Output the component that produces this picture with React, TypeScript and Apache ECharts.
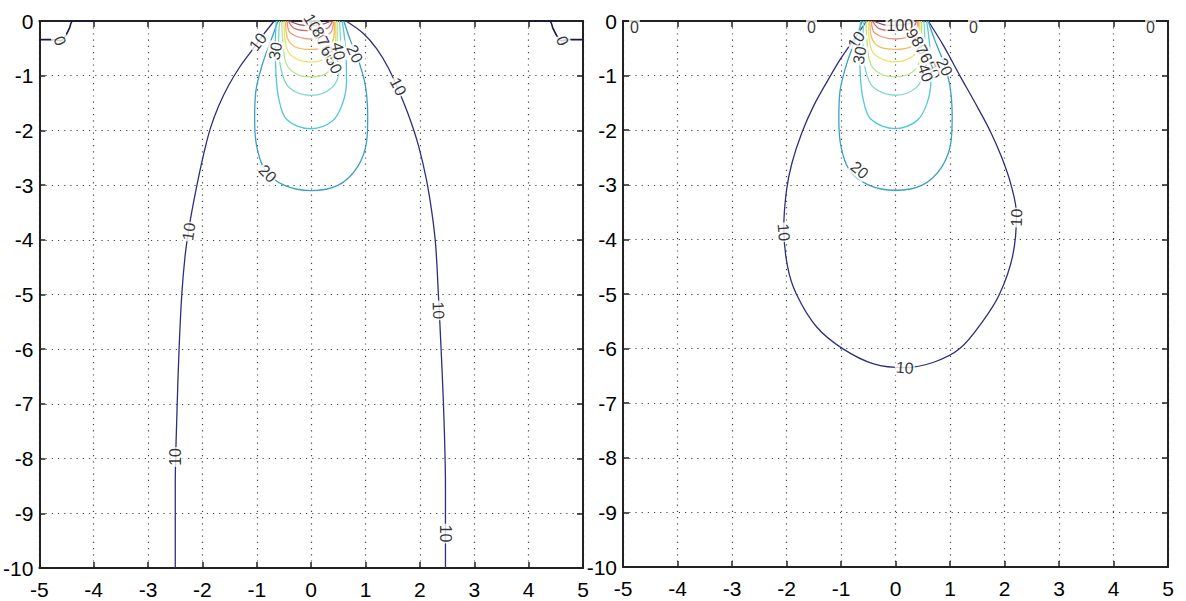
import React, { useEffect, useRef } from "react";
import * as echarts from "echarts";

// ---------- contour data (x, y) ----------
// Left panel
const leftLevel0West: number[][] = [[-5, -0.34], [-4.72, -0.34], [-4.6, -0.36], [-4.53, -0.29], [-4.45, -0.14], [-4.38, 0], [-4.0, 0]];
const leftLevel0East: number[][] = [[4.0, 0], [4.38, 0], [4.45, -0.14], [4.53, -0.29], [4.6, -0.36], [4.72, -0.34], [5, -0.34]];
const leftLevel10West: number[][] = [[-0.68, 0], [-0.88, -0.25], [-1.1, -0.55], [-1.32, -0.85], [-1.52, -1.18], [-1.7, -1.55], [-1.85, -1.95], [-1.97, -2.4], [-2.07, -2.85], [-2.17, -3.35], [-2.25, -3.8], [-2.32, -4.3], [-2.38, -5.0], [-2.43, -6.0], [-2.47, -7.2], [-2.5, -8.5], [-2.5, -10]];
const leftLevel10East: number[][] = [[0.64, 0], [0.95, -0.22], [1.2, -0.5], [1.42, -0.86], [1.63, -1.32], [1.82, -1.8], [1.98, -2.3], [2.12, -2.9], [2.22, -3.5], [2.29, -4.1], [2.34, -5.0], [2.39, -6.0], [2.44, -7.2], [2.47, -8.5], [2.47, -10]];

// Right panel
const rightLevel10: number[][] = [[-0.53, 0], [-0.75, -0.32], [-1.0, -0.68], [-1.25, -1.1], [-1.5, -1.55], [-1.72, -2.05], [-1.9, -2.6], [-2.0, -3.1], [-2.05, -3.8], [-1.98, -4.5], [-1.82, -5.0], [-1.45, -5.6], [-0.97, -6.0], [-0.4, -6.28], [0.17, -6.35], [0.7, -6.25], [1.18, -6.0], [1.6, -5.5], [1.91, -5.0], [2.15, -4.3], [2.22, -3.55], [2.12, -3.0], [1.95, -2.5], [1.73, -2.0], [1.45, -1.48], [1.18, -1.0], [0.88, -0.45], [0.6, 0]];

// Inner contours (both panels)
const level20: number[][] = [[-0.61, 0], [-0.72, -0.3], [-0.9, -0.8], [-1.02, -1.3], [-1.04, -1.8], [-1.0, -2.3], [-0.85, -2.72], [-0.5, -3.0], [0, -3.1], [0.5, -3.0], [0.85, -2.67], [1.02, -2.2], [1.04, -1.75], [1.0, -1.2], [0.88, -0.75], [0.72, -0.35], [0.6, 0]];
const level30: number[][] = [[-0.64, 0], [-0.66, -0.4], [-0.65, -0.9], [-0.6, -1.4], [-0.45, -1.8], [0, -1.97], [0.4, -1.82], [0.58, -1.5], [0.65, -1.1], [0.64, -0.6], [0.6, -0.2], [0.57, 0]];
const level40: number[][] = [[-0.58, 0], [-0.6, -0.4], [-0.55, -0.9], [-0.4, -1.22], [0, -1.36], [0.38, -1.22], [0.52, -0.9], [0.54, -0.4], [0.52, 0]];
const level50: number[][] = [[-0.54, 0], [-0.52, -0.4], [-0.45, -0.8], [-0.25, -0.98], [0, -1.02], [0.25, -0.97], [0.42, -0.8], [0.48, -0.4], [0.48, 0]];
const level60: number[][] = [[-0.5, 0], [-0.48, -0.35], [-0.38, -0.62], [0, -0.75], [0.35, -0.62], [0.45, -0.35], [0.45, 0]];
const level70: number[][] = [[-0.47, 0], [-0.44, -0.3], [-0.3, -0.47], [0, -0.52], [0.3, -0.46], [0.42, -0.28], [0.43, 0]];
const level80: number[][] = [[-0.44, 0], [-0.38, -0.22], [0, -0.33], [0.35, -0.22], [0.41, 0]];
const level90: number[][] = [[-0.42, 0], [-0.3, -0.14], [0, -0.18], [0.3, -0.13], [0.39, 0]];
const level100: number[][] = [[-0.4, 0], [-0.2, -0.07], [0, -0.08], [0.2, -0.06], [0.37, 0]];

// Contour labels: [x, y, text, rotation]
const leftLabels: [number, number, string, number][] = [
  [-4.62, -0.36, "0", -70], [4.62, -0.36, "0", -70],
  [-0.98, -0.38, "10", 52], [-0.66, -0.55, "30", 80],
  [0.06, -0.1, "100", -60], [0.17, -0.27, "80", -60], [0.26, -0.45, "70", -62],
  [0.33, -0.62, "60", -62], [0.42, -0.8, "50", -65], [0.5, -0.55, "40", -80],
  [0.8, -0.6, "20", -65], [1.6, -1.2, "10", -62], [-0.8, -2.79, "20", -45],
  [-2.25, -3.85, "10", 82], [-2.49, -7.97, "10", 90], [2.34, -5.29, "10", -88], [2.47, -9.37, "10", -90],
];
const rightLabels: [number, number, string, number][] = [
  [-4.79, -0.12, "0", 0], [-1.54, -0.12, "0", 0], [1.43, -0.12, "0", 0], [4.68, -0.12, "0", 0],
  [0.08, -0.08, "100", 0], [-0.72, -0.35, "10", 55], [-0.66, -0.63, "30", 80],
  [0.35, -0.3, "90", -60], [0.45, -0.45, "80", -60], [0.52, -0.6, "70", -62],
  [0.6, -0.75, "60", -62], [0.68, -0.9, "50", -65], [0.55, -0.95, "40", -70],
  [0.9, -0.84, "20", -65], [-0.66, -2.73, "20", -40],
  [-2.05, -3.87, "10", -85], [2.22, -3.6, "10", 88], [0.17, -6.35, "10", -5],
];

const levelColors: Record<string, string> = {
  l0: "#16164e", l10: "#2e2e7c", l20: "#3aa0c4", l30: "#52c6dc", l40: "#7fd8c6",
  l50: "#b4e68e", l60: "#ece46a", l70: "#f2bc5c", l80: "#ee9478", l90: "#cc6a6a", l100: "#9c4a5a",
};

const FONT = "'Liberation Sans Narrow', 'Arial Narrow', 'Liberation Sans', Arial, sans-serif";

function lineSeries(data: number[][], color: string, gi: number, width = 1.3) {
  return {
    type: "line",
    xAxisIndex: gi * 2,
    yAxisIndex: gi * 2,
    data,
    symbol: "none",
    smooth: 0.35,
    lineStyle: { color, width },
    silent: true,
    z: 3,
  };
}

function labelSeries(labels: [number, number, string, number][], gi: number) {
  return {
    type: "scatter",
    xAxisIndex: gi * 2,
    yAxisIndex: gi * 2,
    symbolSize: 0,
    silent: true,
    z: 10,
    data: labels.map((l) => ({
      value: [l[0], l[1]],
      label: {
        show: true,
        position: "inside",
        formatter: l[2],
        rotate: l[3],
        fontSize: 16,
        fontFamily: FONT,
        color: "#000",
        backgroundColor: "#fff",
        padding: [0, 1],
      },
    })),
  };
}

function makeAxes(gi: number) {
  const axisLine = { show: true, onZero: false, lineStyle: { color: "#222", width: 2 } };
  const tick = { show: true, inside: true, length: 6, lineStyle: { color: "#222", width: 1.5 } };
  const split = { show: true, lineStyle: { color: "#444", width: 1.2, type: [1.2, 5] } };
  const lbl = { fontSize: 21, fontFamily: FONT, color: "#000" };
  const xs = [
    { type: "value", gridIndex: gi, position: "bottom", min: -5, max: 5, interval: 1, axisLine, axisTick: tick, splitLine: split, axisLabel: { ...lbl, margin: 11 } },
    { type: "value", gridIndex: gi, position: "top", min: -5, max: 5, interval: 1, axisLine, axisTick: tick, splitLine: { show: false }, axisLabel: { show: false } },
  ];
  const ys = [
    { type: "value", gridIndex: gi, position: "left", min: -10, max: 0, interval: 1, axisLine, axisTick: tick, splitLine: split, axisLabel: { ...lbl, margin: 6 } },
    { type: "value", gridIndex: gi, position: "right", min: -10, max: 0, interval: 1, axisLine, axisTick: tick, splitLine: { show: false }, axisLabel: { show: false } },
  ];
  return { xs, ys };
}

export default function App() {
  const ref = useRef<HTMLDivElement>(null);
  useEffect(() => {
    if (!ref.current) return;
    const chart = echarts.init(ref.current, undefined, { renderer: "svg" });
    const a0 = makeAxes(0);
    const a1 = makeAxes(1);
    const inner = [
      [level20, "l20"], [level30, "l30"], [level40, "l40"], [level50, "l50"], [level60, "l60"],
      [level70, "l70"], [level80, "l80"], [level90, "l90"], [level100, "l100"],
    ] as [number[][], string][];
    const series: any[] = [
      lineSeries(leftLevel0West, levelColors.l0, 0, 1.6),
      lineSeries(leftLevel0East, levelColors.l0, 0, 1.6),
      lineSeries(leftLevel10West, levelColors.l10, 0),
      lineSeries(leftLevel10East, levelColors.l10, 0),
      ...inner.map(([d, k]) => lineSeries(d, levelColors[k], 0)),
      lineSeries(rightLevel10, levelColors.l10, 1),
      ...inner.map(([d, k]) => lineSeries(d, levelColors[k], 1)),
      labelSeries(leftLabels, 0),
      labelSeries(rightLabels, 1),
    ];
    chart.setOption({
      animation: false,
      backgroundColor: "#fff",
      grid: [
        { left: 38, top: 21, width: 545, height: 547 },
        { left: 623, top: 21, width: 545, height: 546 },
      ],
      xAxis: [...a0.xs, ...a1.xs],
      yAxis: [...a0.ys, ...a1.ys],
      series,
    });
    return () => chart.dispose();
  }, []);
  return (
    <div
      ref={ref}
      style={{ position: "absolute", left: 0, top: 0, width: 1186, height: 601, background: "#fff" }}
    />
  );
}
